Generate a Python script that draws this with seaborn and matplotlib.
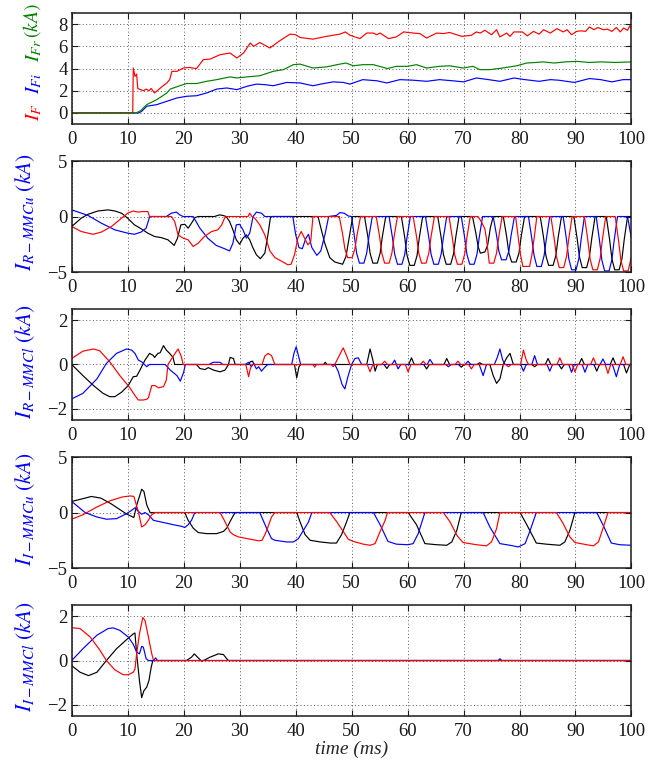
import matplotlib
matplotlib.use("Agg")
import matplotlib.pyplot as plt
import pandas as pd
import seaborn as sns

# (time in ms, current in kA) breakpoints

# panel 1: fault currents
p1_if = [(0, 0), (10.9, 0), (11, 4.05), (11.3, 3.3), (11.6, 3.5), (11.8, 2.2), (12.3, 2.1), (12.8, 2.0),
         (13.3, 2.15), (13.8, 2.0), (14.2, 2.2), (14.8, 1.8), (15.5, 2.1), (16.2, 2.4), (17, 2.7), (17.5, 3.0),
         (17.9, 3.75), (18.8, 3.75), (20, 4.05), (21, 4.1), (22.3, 4.0), (23.5, 4.8), (24.7, 4.85), (26.5, 5.25),
         (28.3, 5.4), (29.5, 4.95), (30.7, 5.4), (31.9, 6.3), (32.5, 6.0), (33.6, 6.35), (35.4, 5.85), (37, 6.45),
         (39, 7.1), (40, 7.05), (40.8, 6.8), (43.1, 6.65), (45.5, 6.9), (47.9, 7.1), (48.9, 7.3), (49.7, 7.0),
         (51.5, 6.7), (52.7, 7.2), (53.9, 7.2), (54.5, 7.05), (55.1, 7.2), (56.6, 6.7), (58, 6.85), (59.3, 7.3),
         (61, 7.2), (62.2, 7.15), (63.4, 6.75), (65.2, 7.2), (66.4, 7.15), (67.5, 7.25), (69.7, 6.9), (71.4, 7.0),
         (72.3, 7.3), (73, 7.2), (73.8, 7.45), (75, 7.05), (75.9, 7.5), (76.5, 6.85), (77.7, 7.2), (78.3, 6.9),
         (79, 7.3), (80.5, 7.3), (81.4, 6.95), (82.5, 7.35), (83.5, 7.1), (84.3, 7.5), (85.5, 7.2), (86.7, 7.6),
         (87.8, 7.3), (88.5, 7.5), (89.3, 7.05), (90.2, 7.35), (91, 7.4), (91.8, 7.35), (92.5, 7.75), (93.3, 7.5),
         (94, 7.7), (95, 7.5), (95.7, 7.55), (96.5, 7.35), (97.3, 7.7), (98, 7.3), (98.6, 7.65), (99.3, 7.45),
         (99.7, 7.85), (100, 7.6)]
p1_ifr = [(0, 0), (11.5, 0), (12.3, 0.2), (13.4, 0.75), (15.2, 1.2), (17, 1.8), (17.6, 2.15), (19.3, 2.45),
          (20.5, 2.65), (22.3, 2.65), (24.1, 2.85), (25.9, 3.0), (28.3, 3.25), (29.5, 3.15), (31.3, 3.25),
          (33.6, 3.35), (36, 3.75), (37.8, 3.9), (39.6, 4.35), (40.8, 4.4), (43.1, 4.05), (45.5, 4.15), (47.9, 4.4),
          (49, 4.5), (50.3, 4.25), (52, 4.35), (53.9, 4.35), (56.4, 4.0), (58, 4.2), (60, 4.2), (61.6, 4.35),
          (63.4, 4.05), (65.7, 4.2), (67.5, 4.25), (69.9, 4.05), (71.7, 4.2), (72.9, 3.9), (74.7, 3.9), (77, 4.05),
          (79.5, 4.25), (81.3, 4.5), (83, 4.55), (84.2, 4.6), (86.2, 4.5), (88.2, 4.6), (90.2, 4.65), (92.5, 4.55),
          (94.6, 4.6), (97, 4.55), (100, 4.6)]
p1_ifi = [(0, 0), (12, 0), (12.5, 0.15), (13.4, 0.6), (15.2, 0.75), (17, 1.05), (18.8, 1.35), (20.5, 1.5),
          (22.3, 1.55), (24.1, 1.8), (25.9, 2.15), (27.7, 2.25), (29.5, 2.1), (31.3, 2.4), (33, 2.6), (34.5, 2.55),
          (36, 2.45), (38.4, 2.75), (40.8, 2.7), (43.1, 2.45), (44.5, 2.6), (46.7, 2.8), (48.5, 2.75), (49.7, 2.6),
          (52, 3.0), (54.5, 2.9), (56.3, 2.7), (58.6, 3.0), (61, 2.95), (63.4, 2.85), (65.7, 3.0), (68, 2.9),
          (70, 2.8), (72.3, 3.15), (74.5, 3.0), (76.5, 2.85), (79, 3.15), (81, 3.0), (83.5, 2.85), (85.5, 3.0),
          (87, 2.95), (89.8, 2.75), (92.5, 3.1), (94.5, 3.0), (96.5, 2.8), (98.5, 3.0), (100, 3.0)]

# panel 2: rectifier MMC upper arm
p2_red = [(0, -0.9), (1.7, -1.35), (3.8, -1.6), (5.3, -1.4), (7.1, -0.9), (8.9, -0.15), (10, 0.3), (11, 0.5),
          (11.8, 0.4), (12.7, 0.45), (13.6, 0.45), (13.9, 0), (17.8, 0), (18.4, -0.45), (19, -1.65), (19.9, -1.95),
          (20.8, -2.1), (21.7, -2.7), (22.6, -2.4), (23.7, -1.8), (25, -1.35), (26.1, -1.2), (26.8, -0.75),
          (27.3, -0.15), (27.6, 0), (31.5, 0), (31.8, 0.3), (32.2, 0), (32.7, -0.15), (33.6, -0.75), (34.5, -1.65),
          (35.4, -3.1), (36.3, -3.7), (37.4, -4.0), (38.6, -4.35), (39.2, -4.3), (39.8, -3.45), (40.4, -1.95),
          (41, -1.35), (41.6, -1.95), (42.2, -2.55), (42.7, -2.25), (43.1, 0),
          (47.8, 0), (48.4, -1.6), (48.8, -2.9), (49.3, -3.7), (50.1, -3.7), (50.6, -2.9), (51.0, -1.6), (51.6, 0),
          (54.4, 0), (55.0, -1.8), (55.4, -3.3), (55.9, -4.2), (56.7, -4.2), (57.2, -3.3), (57.6, -1.8), (58.2, 0),
          (61.0, 0), (61.6, -1.8), (62.0, -3.3), (62.5, -4.2), (63.3, -4.2), (63.8, -3.3), (64.2, -1.8), (64.8, 0),
          (67.4, 0), (68.0, -1.9), (68.4, -3.4), (68.9, -4.3), (69.7, -4.3), (70.2, -3.4), (70.6, -1.9), (71.2, 0),
          (72.6, 0), (73.2, -0.5), (73.8, -1.1), (74.1, -2.0), (74.6, -4.2), (75.4, -4.2), (75.9, -3.3),
          (76.3, -1.8), (76.9, 0),
          (79.3, 0), (79.8, -2.0), (80.2, -3.5), (80.6, -4.5), (81.8, -4.5), (82.2, -3.5), (82.6, -2.0), (83.1, 0),
          (85.6, 0), (86.2, -2.0), (86.6, -3.6), (87.1, -4.6), (87.9, -4.6), (88.4, -3.6), (88.8, -2.0), (89.4, 0),
          (91.6, 0), (92.2, -2.1), (92.6, -3.8), (93.1, -4.8), (93.9, -4.8), (94.4, -3.8), (94.8, -2.1), (95.4, 0),
          (97.1, 0), (97.7, -2.2), (98.1, -3.9), (98.6, -4.9), (99.4, -4.9), (100, -3.6)]
p2_blue = [(0, 0.6), (2.9, 0.1), (5.3, -0.6), (7.7, -1.2), (10, -1.5), (11.2, -1.6), (12.4, -1.4), (13.3, -1.05),
           (13.9, -0.05), (14.2, 0), (16.9, 0), (17.8, 0.3), (18.7, 0.4), (19.3, 0.15), (19.9, 0), (21.7, 0),
           (22.9, -1.05), (24.3, -1.95), (25.8, -2.6), (27.3, -2.9), (28.2, -3.1), (28.8, -2.4), (29.4, -0.75),
           (30, -0.7), (30.6, -1.2), (31.2, -1.95), (31.8, -1.5), (32.4, 0), (33, 0.4), (33.9, 0.3), (34.5, 0),
           (39.5, 0), (40.0, -1.6), (40.6, -2.8), (41.2, -2.9), (41.8, -2.0), (42.3, -1.6), (42.9, -2.8),
           (43.8, -3.5), (44.5, -3.1), (45.3, -1.5), (45.9, 0), (47.3, 0.1), (47.9, 0.35), (48.7, 0.3),
           (49.4, 0.05), (50.0, 0),
           (50.5, -1.8), (50.9, -3.3), (51.4, -4.2), (52.2, -4.2), (52.7, -3.3), (53.1, -1.8), (53.7, 0),
           (56.7, 0), (57.3, -1.9), (57.7, -3.4), (58.2, -4.3), (59.0, -4.3), (59.5, -3.4), (59.9, -1.9), (60.5, 0),
           (63.2, 0), (63.8, -1.9), (64.2, -3.4), (64.7, -4.3), (65.5, -4.3), (66.0, -3.4), (66.4, -1.9), (67.0, 0),
           (69.6, 0), (70.2, -1.9), (70.6, -3.4), (71.1, -4.3), (71.9, -4.3), (72.4, -3.4), (72.8, -1.9), (73.4, 0),
           (75.3, 0), (75.9, -1.7), (76.3, -3.1), (76.8, -3.9), (77.6, -3.9), (78.1, -3.1), (78.5, -1.7), (79.1, 0),
           (81.6, 0), (82.2, -2.0), (82.6, -3.5), (83.1, -4.5), (83.9, -4.5), (84.4, -3.5), (84.8, -2.0), (85.4, 0),
           (87.8, 0), (88.4, -2.1), (88.8, -3.8), (89.3, -4.8), (90.1, -4.8), (90.6, -3.8), (91.0, -2.1), (91.6, 0),
           (93.7, 0), (94.3, -2.2), (94.7, -3.9), (95.2, -4.9), (96.0, -4.9), (96.5, -3.9), (96.9, -2.2), (97.5, 0),
           (99.3, 0), (100, -2.0)]
p2_black = [(0, -0.9), (1.7, -0.15), (2.9, 0.2), (4.7, 0.5), (6.5, 0.6), (7.7, 0.5), (8.9, 0.3), (10, -0.15),
            (11.2, -0.75), (12.4, -1.1), (13.6, -1.5), (14.8, -1.8), (16, -1.9), (17.2, -2.1), (18.3, -2.6),
            (18.9, -1.95), (19.5, -0.75), (20.2, -0.7), (20.8, -1.05), (21.4, -0.6), (22, -0.1), (22.6, 0),
            (25.5, 0), (26.4, 0.15), (27, 0.1), (27.6, 0), (28.2, -0.45), (28.8, -1.2), (29.4, -2.1), (30, -2.5),
            (30.6, -1.95), (31.2, -1.65), (31.8, -2.1), (32.4, -2.85), (33, -3.45), (33.7, -3.8), (34.5, -3.3),
            (35.05, -1.65), (35.5, -0.1), (35.8, 0), (44, 0), (44.6, -1.2), (45.2, -2.4), (46.1, -3.7),
            (47, -4.1), (48.4, -4.3), (49.0, -3.6), (49.7, -1.5), (50.2, 0),
            (52.3, 0), (52.9, -1.8), (53.3, -3.3), (53.8, -4.2), (54.6, -4.2), (55.1, -3.3), (55.5, -1.8), (56.1, 0),
            (58.9, 0), (59.5, -1.9), (59.9, -3.5), (60.4, -4.4), (61.2, -4.4), (61.7, -3.5), (62.1, -1.9), (62.7, 0),
            (65.4, 0), (66.0, -1.9), (66.4, -3.4), (66.9, -4.3), (67.7, -4.3), (68.2, -3.4), (68.6, -1.9), (69.2, 0),
            (71.6, 0), (72.2, -1.5), (72.6, -2.7), (73.0, -3.3), (73.8, -3.2), (74.3, -2.6), (74.8, -1.0), (75.3, 0),
            (77.1, 0), (77.7, -1.8), (78.1, -3.3), (78.6, -4.1), (79.4, -4.1), (79.9, -3.3), (80.3, -1.8), (80.9, 0),
            (83.7, 0), (84.3, -1.9), (84.7, -3.5), (85.2, -4.4), (86.0, -4.4), (86.5, -3.5), (86.9, -1.9), (87.5, 0),
            (89.7, 0), (90.3, -2.0), (90.7, -3.6), (91.2, -4.6), (92.0, -4.6), (92.5, -3.6), (92.9, -2.0), (93.5, 0),
            (95.5, 0), (96.1, -2.1), (96.5, -3.8), (97.0, -4.8), (97.8, -4.8), (98.3, -3.8), (98.7, -2.1), (99.3, 0),
            (100, 0)]

# panel 3: rectifier MMC lower arm
p3_red = [(0, 0.27), (2, 0.6), (3.9, 0.7), (5, 0.62), (6.8, 0.12), (8.6, -0.5), (10.4, -1.05), (11.3, -1.4),
          (11.9, -1.6), (12.8, -1.6), (13.4, -1.57), (13.7, -1.5), (14.3, -0.95), (14.9, -0.95), (15.5, -1.05),
          (16.4, -1.0), (16.9, -0.7), (17.2, 0), (18.2, 0.4), (19, 0.7), (19.6, 0.35), (19.9, 0), (31.1, 0),
          (31.6, -0.55), (31.9, -0.2), (32.2, 0), (34, 0), (34.5, 0.38), (35.1, 0.5), (35.7, 0.4), (36.3, 0),
          (43.1, 0), (43.4, -0.12), (43.7, 0), (46.4, 0), (46.7, -0.1), (47, 0), (47.6, 0.3), (48.5, 0.75),
          (49.1, 0.4), (49.7, 0), (52.8, 0), (53.3, -0.33), (53.8, 0), (55.4, 0), (55.9, 0.15), (56.4, 0),
          (59.6, 0), (60.1, -0.33), (60.6, 0), (62.3, 0), (62.8, 0.15), (63.3, 0), (68.5, 0), (69, 0.15),
          (69.5, 0), (70.9, 0), (71.4, -0.2), (71.9, 0), (77.5, 0), (78, -0.1), (78.5, 0), (80.2, 0),
          (80.7, 0.65), (81.2, 0.2), (81.6, 0), (86.7, 0), (87.2, 0.3), (87.7, 0), (89.4, 0), (89.9, -0.33),
          (90.4, 0), (92.7, 0), (93.2, 0.3), (93.7, 0), (95.3, 0), (95.8, -0.4), (96.3, 0), (98, 0),
          (98.5, 0.35), (99, 0), (100, 0)]
p3_blue = [(0, -1.55), (2, -1.3), (4.5, -0.65), (6.2, 0.05), (8, 0.5), (9.8, 0.7), (10.7, 0.65), (11.3, 0.5),
           (11.9, 0.2), (12.5, 0.12), (13.4, -0.1), (13.9, 0), (16.7, 0), (17.6, -0.25), (18.8, -0.5),
           (19.4, -0.75), (20, -0.35), (20.3, 0), (24.5, 0), (25.3, 0.1), (26.5, 0.1), (27, 0), (31, 0),
           (31.6, 0.1), (32.1, -0.1), (32.5, 0.05), (33, -0.2), (33.4, -0.1), (33.9, -0.3), (34.4, -0.15),
           (35, 0), (39.3, 0), (39.7, 0.5), (40.1, 0.8), (40.5, 0.4), (40.9, 0), (47, 0), (47.6, -0.3),
           (48.3, -0.9), (48.8, -1.1), (49.4, -0.5), (50, 0), (50.6, 0.27), (51.2, 0.3), (51.8, 0), (57.2, 0),
           (57.7, 0.2), (58.3, -0.2), (58.8, 0), (63.5, 0), (64, 0.23), (64.6, 0), (66.8, 0), (67.3, -0.1),
           (67.8, 0), (70.3, 0), (70.8, 0.15), (71.3, 0), (72.8, 0), (73.5, -0.5), (74.1, 0), (75.5, 0),
           (76, 0.3), (76.5, 0.7), (77, 0.2), (77.4, 0), (80.2, 0), (80.7, -0.3), (81.2, 0), (82.2, 0),
           (82.7, 0.4), (83.2, 0), (84.9, 0), (85.4, -0.3), (85.9, 0), (88.8, 0), (89.3, -0.35), (89.8, 0),
           (91.2, 0), (91.7, -0.35), (92.2, 0), (94.4, 0), (94.9, 0.25), (95.4, 0), (96.6, 0), (97.3, -0.55),
           (97.9, 0), (100, 0)]
p3_black = [(0, 0), (2, -0.5), (3.9, -0.95), (5.6, -1.3), (6.8, -1.45), (7.7, -1.45), (8.9, -1.25), (10.1, -0.95),
            (11, -0.55), (11.6, -0.53), (12.2, -0.25), (13.1, 0.2), (13.9, 0.5), (14.5, 0.42), (14.8, 0.32),
            (15.4, 0.5), (15.8, 0.53), (16.4, 0.85), (16.9, 0.65), (17.5, 0.5), (18.1, 0.32), (18.4, 0),
            (22.3, 0), (22.9, -0.18), (23.8, -0.23), (24.4, -0.14), (25.3, -0.25), (26.5, -0.33), (27.4, -0.25),
            (28, 0), (28.3, 0.32), (28.9, 0.27), (29.2, 0), (31.6, 0), (31.9, 0.12), (32.3, 0.15), (32.6, 0),
            (39.8, 0), (40.2, -0.6), (40.6, -0.1), (40.9, 0), (45, 0), (45.3, 0.1), (45.6, 0), (52.7, 0),
            (53.3, 0.7), (53.8, 0.2), (54.2, -0.3), (54.6, 0), (55.8, 0), (56.3, -0.18), (56.8, 0), (60.2, 0),
            (60.7, 0.3), (61.2, 0), (62.9, 0), (63.4, -0.2), (63.9, 0), (66.5, 0), (67, 0.27), (67.5, 0),
            (69.1, 0), (69.6, -0.12), (70.1, 0), (72.4, 0), (72.9, 0.08), (73.4, 0), (74.7, 0), (75.3, -0.5),
            (75.9, -0.85), (76.5, -0.65), (77.1, 0), (77.7, 0.3), (78.3, 0.5), (78.9, 0), (82.2, 0),
            (82.7, -0.1), (83.2, 0), (84.6, 0), (85.1, 0.27), (85.6, 0), (87, 0), (87.5, -0.2), (88, 0),
            (90.6, 0), (91.1, 0.27), (91.6, 0), (93.3, 0), (93.8, -0.3), (94.3, 0), (96.2, 0), (96.7, 0.3),
            (97.2, 0), (98.6, 0), (99.1, -0.38), (99.7, 0), (100, 0)]

# panel 4: inverter MMC upper arm
p4_red = [(0, -0.6), (2, -0.2), (4.5, 0.5), (6.8, 1.05), (9, 1.4), (10.5, 1.5), (11.1, 1.45), (11.9, 0.1),
          (12.5, -1.3), (13.1, -1.1), (13.7, -0.7), (14.2, -0.25), (14.8, 0), (26.5, 0), (27.1, -0.55),
          (28.3, -1.75), (28.9, -2.0), (29.8, -2.2), (31.9, -2.4), (33.4, -2.55), (34, -2.5), (34.6, -1.9),
          (35.2, -1.1), (35.7, -0.4), (36.3, 0), (46.1, 0), (47.3, -0.8), (48.5, -1.7), (49.4, -2.4),
          (50.3, -2.6), (52.1, -2.85), (53.3, -2.95), (54.2, -2.8), (55.1, -1.7), (56, -0.7), (56.4, 0),
          (66.4, 0), (67.6, -0.85), (68.8, -2.05), (69.9, -2.7), (72.3, -2.9), (74.1, -3.0), (75, -2.65),
          (75.9, -1.45), (76.5, 0), (86.6, 0), (87.8, -1.0), (89, -2.2), (89.9, -2.7), (92, -2.9), (93.2, -3.0),
          (94.1, -2.65), (94.9, -1.45), (95.8, 0), (100, 0)]
p4_blue = [(0, 1.0), (2.4, 0), (4.5, -0.4), (6.2, -0.6), (8, -0.55), (9.8, -0.1), (10.7, 0.2), (11.3, 0.43),
           (11.9, 0.1), (12.5, -0.15), (13.1, 0), (13.7, -0.2), (14.6, -0.7), (16.4, -0.9), (18.2, -1.1),
           (19.7, -1.25), (20.2, -1.35), (20.8, -1.1), (21.4, -0.7), (22, 0), (33.6, 0), (34.2, -0.7),
           (34.8, -1.4), (35.7, -2.35), (36.3, -2.5), (38.4, -2.65), (39.6, -2.65), (40.5, -2.35), (41.4, -1.6),
           (42.3, -0.85), (42.9, 0), (53.9, 0), (55.1, -1.1), (56.5, -2.6), (58, -2.85), (60.1, -2.9),
           (61, -2.8), (61.9, -1.9), (63.1, 0), (73.5, 0), (74.7, -1.3), (76.5, -2.8), (78.3, -2.95),
           (79.8, -3.1), (81, -2.8), (81.8, -1.75), (83, 0), (93.8, 0), (94.9, -1.1), (96.4, -2.75),
           (97.9, -2.9), (100, -2.95)]
p4_black = [(0, 1.0), (2.4, 1.3), (3.5, 1.45), (5.2, 1.3), (7, 0.8), (8.8, 0.2), (9.7, -0.1), (10.5, -0.3),
            (11.1, -0.45), (11.6, 0.65), (12.5, 2.1), (12.9, 1.9), (13.4, 0.7), (14, 0), (20.2, 0), (20.8, -0.7),
            (21.7, -1.4), (22.6, -1.8), (24.1, -1.9), (25.9, -1.9), (27.1, -1.7), (27.7, -1.4), (28.3, -0.8),
            (28.9, -0.25), (29.2, 0), (40.2, 0), (40.8, -0.85), (41.7, -2.0), (42.6, -2.5), (44.4, -2.65),
            (46.2, -2.75), (47.3, -2.75), (48.2, -2.0), (49.1, -0.85), (49.7, 0), (60.1, 0), (61.6, -1.1),
            (63.1, -2.8), (65.2, -2.9), (67, -2.95), (67.9, -2.65), (68.8, -1.6), (69.6, 0), (80.1, 0),
            (81.3, -1.1), (83, -2.75), (84.8, -2.85), (87.2, -2.95), (88.1, -2.65), (89, -1.6), (89.9, 0),
            (100, 0)]

# panel 5: inverter MMC lower arm
p5_red = [(0, 1.48), (1.5, 1.44), (3.3, 1.06), (5, 0.48), (6.2, 0), (7.7, -0.42), (9.2, -0.64), (10.1, -0.64),
          (11, -0.53), (11.3, -0.38), (11.6, 0.3), (12.1, 1.2), (12.7, 1.94), (13.1, 1.8), (13.7, 1.06),
          (14.3, 0.3), (14.6, 0.03), (14.9, 0), (100, 0)]
p5_blue = [(0, 0), (2, 0.53), (4.5, 1.14), (6.5, 1.44), (7.4, 1.47), (8.6, 1.36), (10.1, 1.06), (11, 0.73),
           (11.6, 0.38), (12.1, 0.3), (12.5, 0.64), (12.8, 0.6), (13.3, 0.08), (13.7, 0), (14.6, 0), (15, 0.12),
           (15.3, 0), (76.2, 0), (76.5, 0.08), (76.8, 0), (100, 0)]
p5_black = [(0, -0.23), (1.5, -0.53), (3, -0.68), (4.5, -0.53), (6.2, 0), (8, 0.53), (9.8, 0.94), (11, 1.2),
            (11.3, 1.24), (11.6, 0.3), (12.1, -0.9), (12.5, -1.67), (12.9, -1.36), (13.4, -1.2), (13.8, -0.9),
            (14.2, -0.3), (14.5, 0), (20.5, 0), (21.4, 0.15), (21.9, 0.3), (22.6, 0.12), (23.2, -0.03),
            (23.8, 0.03), (24.7, 0.15), (26.2, 0.3), (27.1, 0.27), (27.7, 0.08), (28, 0), (100, 0)]

x_ticks = [0, 10, 20, 30, 40, 50, 60, 70, 80, 90, 100]
RED, BLUE, GREEN, BLACK = "#ff0000", "#0000ff", "#008000", "#000000"

sns.set_theme(style="ticks")
plt.rcParams["font.family"] = ["Liberation Serif", "DejaVu Serif"]
plt.rcParams["mathtext.fontset"] = "stix"

panels = [
    ([(p1_ifi, BLUE), (p1_if, RED), (p1_ifr, GREEN)], (-1, 9), [0, 2, 4, 6, 8]),
    ([(p2_black, BLACK), (p2_blue, BLUE), (p2_red, RED)], (-5, 5), [-5, 0, 5]),
    ([(p3_black, BLACK), (p3_blue, BLUE), (p3_red, RED)], (-2.5, 2.5), [-2, 0, 2]),
    ([(p4_black, BLACK), (p4_blue, BLUE), (p4_red, RED)], (-5, 5), [-5, 0, 5]),
    ([(p5_black, BLACK), (p5_blue, BLUE), (p5_red, RED)], (-2.5, 2.5), [-2, 0, 2]),
]
bottoms = [0.8368, 0.6421, 0.4474, 0.2526, 0.0579]

W, H = 664, 760
fig = plt.figure(figsize=(W / 100, H / 100), dpi=100)
for (traces, ylim, yticks), b in zip(panels, bottoms):
    ax = fig.add_axes([0.108, b, 0.843, 0.146])
    for pts, col in traces:
        df = pd.DataFrame(pts, columns=["t", "i"])
        sns.lineplot(data=df, x="t", y="i", color=col, lw=0.85, ax=ax,
                     estimator=None, sort=False)
    ax.set_xlim(0, 100)
    ax.set_ylim(*ylim)
    ax.set_xticks(x_ticks)
    ax.set_yticks(yticks)
    ax.set_xlabel("")
    ax.set_ylabel("")
    ax.grid(True, ls=(0, (1, 2.5)), lw=0.7, color="0.35")
    ax.tick_params(direction="in", top=True, right=True, length=4, width=0.8,
                   labelsize=13.5, colors="k")
    ax.tick_params(axis="x", pad=5)
    ax.tick_params(axis="y", pad=3)
    for s in ax.spines.values():
        s.set_linewidth(1.1)
        s.set_color("k")


def ftext(px, py, s, col, size=15.5):
    fig.text(px / W, 1 - py / H, s, color=col, rotation=90, ha="center", va="center",
             fontsize=size)


# composite label of the first panel
ftext(34, 112, r"$I_F$", RED, 14.5)
ftext(34, 83, r"$I_{Fi}$", BLUE, 14.5)
ftext(34, 50, r"$I_{Fr}$", GREEN, 14.5)
ftext(32, 21, r"$(kA)$", GREEN, 14)

ftext(25, 212, r"$I_{R-MMCu}\ (kA)$", BLUE)
ftext(25, 362, r"$I_{R-MMCl}\ (kA)$", BLUE)
ftext(25, 509, r"$I_{I-MMCu}\ (kA)$", BLUE)
ftext(25, 657, r"$I_{I-MMCl}\ (kA)$", BLUE)

fig.text(351.7 / W, 1 - 749 / H, "time (ms)", style="italic", fontsize=14,
         ha="center", va="center")

fig.savefig("out.png", dpi=100)
